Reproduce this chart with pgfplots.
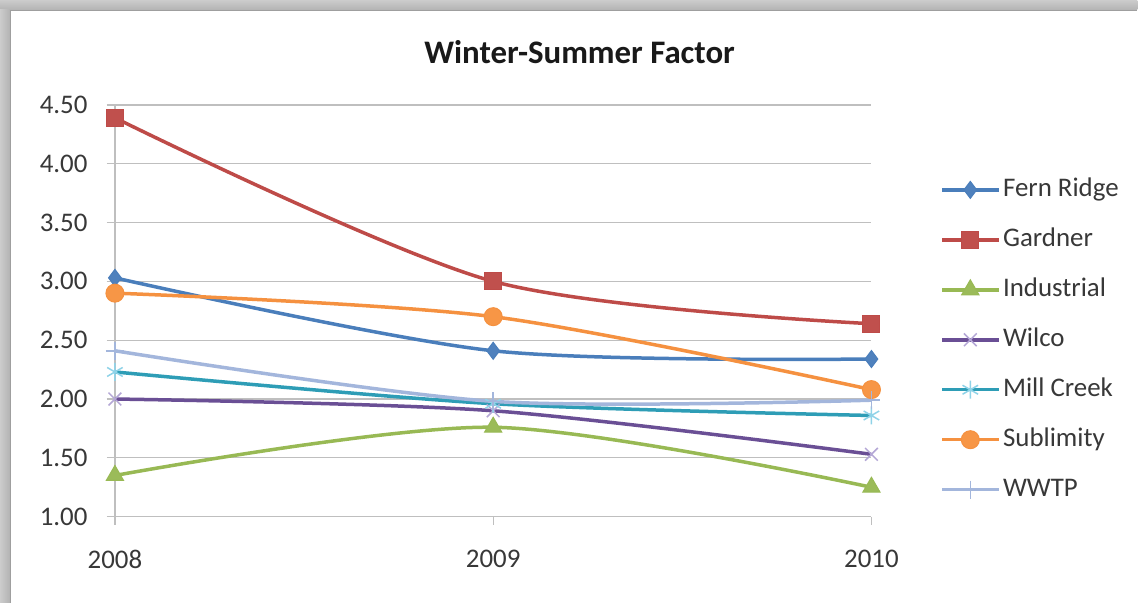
\documentclass[border=0pt]{standalone}
\usepackage{pgfplots}
\pgfplotsset{compat=1.18}
\usepackage{fontspec}
\setmainfont{Carlito}

\definecolor{fernLine}{HTML}{4A7EBB}
\definecolor{fernMark}{HTML}{4F81BD}
\definecolor{gardLine}{HTML}{BE4B48}
\definecolor{gardMark}{HTML}{C0504D}
\definecolor{indLine}{HTML}{98B954}
\definecolor{indMark}{HTML}{9BBB59}
\definecolor{wilLine}{HTML}{6A4F95}
\definecolor{wilMark}{HTML}{B4A7D6}
\definecolor{millLine}{HTML}{2E9DB6}
\definecolor{millMark}{HTML}{8FD3E8}
\definecolor{subLine}{HTML}{F59140}
\definecolor{subMark}{HTML}{F79646}
\definecolor{wwtpLine}{HTML}{A3B6DC}
\definecolor{gridGray}{HTML}{BFBFBF}

\pgfplotstableread{
year fern gardner industrial wilco mill sublimity wwtp
2008 3.03 4.39 1.35 2.00 2.23 2.90 2.41
2009 2.41 3.00 1.76 1.90 1.96 2.70 1.98
2010 2.34 2.64 1.25 1.53 1.86 2.08 1.99
}\wsdata

\begin{document}
\begin{tikzpicture}
  % page and window frame
  \begin{scope}[x=1bp,y=1bp]
    \fill[white] (0,0) rectangle (1138,603);
    \shade[top color=gray!40, bottom color=gray!60] (0,593) rectangle (1138,603);
    \shade[left color=gray!40, right color=gray!60] (0,0) rectangle (10,593);
    \draw[gray!75, line width=1.5bp] (10.5,0) -- (10.5,592.5) -- (1138,592.5);
    \node[font=\fontsize{33}{38}\selectfont\bfseries, text=black!90] at (580,551) {Winter-Summer Factor};
  \end{scope}

  \begin{axis}[
    at={(115bp,86bp)}, anchor=south west,
    scale only axis, width=757bp, height=412bp,
    xmin=2008, xmax=2010, ymin=1, ymax=4.5,
    xtick={2008,2009,2010}, ytick={1,1.5,...,4.5},
    axis lines=left, axis line style={-, gridGray, line width=1.2bp},
    ymajorgrids, grid style={gridGray, line width=1.2bp},
    tick align=outside, major tick length=8bp,
    tick style={gridGray, line width=1.2bp},
    tick label style={font=\fontsize{27}{32}\selectfont, text=black!78},
    /pgf/number format/assume math mode=true,
    xticklabel style={/pgf/number format/1000 sep={}, yshift=-22bp},
    yticklabel style={/pgf/number format/fixed, /pgf/number format/fixed zerofill,
      /pgf/number format/precision=2, xshift=-16bp},
    every axis plot/.append style={line width=3.5bp, smooth, tension=0.5},
    legend cell align=left,
    legend style={at={(1.0872,0.4296)}, anchor=west, draw=none, fill=none,
      font=\fontsize{27}{31}\selectfont, row sep=23bp, text=black!78,
      nodes={text height=18bp, text depth=5bp, inner sep=2bp}},
    legend image code/.code={\draw[mark repeat=2,mark phase=2]
      plot coordinates {(0bp,0bp) (28bp,0bp) (57bp,0bp)};},
  ]
    \addplot[fernLine, mark=diamond*, mark size=8.5bp,
      mark options={fill=fernMark, draw=fernLine, line width=1bp}]
      table[x=year, y=fern] {\wsdata};
    \addlegendentry{Fern Ridge}
    \addplot[gardLine, mark=square*, mark size=8.5bp,
      mark options={fill=gardMark, draw=gardLine, line width=1bp}]
      table[x=year, y=gardner] {\wsdata};
    \addlegendentry{Gardner}
    \addplot[indLine, mark=triangle*, mark size=10bp,
      mark options={fill=indMark, draw=indLine, line width=1bp}]
      table[x=year, y=industrial] {\wsdata};
    \addlegendentry{Industrial}
    \addplot[wilLine, mark=x, mark size=9bp,
      mark options={draw=wilMark, line width=1.5bp}]
      table[x=year, y=wilco] {\wsdata};
    \addlegendentry{Wilco}
    \addplot[millLine, mark=asterisk, mark size=9bp,
      mark options={draw=millMark, line width=1.5bp}]
      table[x=year, y=mill] {\wsdata};
    \addlegendentry{Mill Creek}
    \addplot[subLine, mark=*, mark size=9bp,
      mark options={fill=subMark, draw=subLine, line width=1bp}]
      table[x=year, y=sublimity] {\wsdata};
    \addlegendentry{Sublimity}
    \addplot[wwtpLine, mark=+, mark size=9bp,
      mark options={draw=wwtpLine, line width=1.5bp}]
      table[x=year, y=wwtp] {\wsdata};
    \addlegendentry{WWTP}
  \end{axis}
\end{tikzpicture}
\end{document}
